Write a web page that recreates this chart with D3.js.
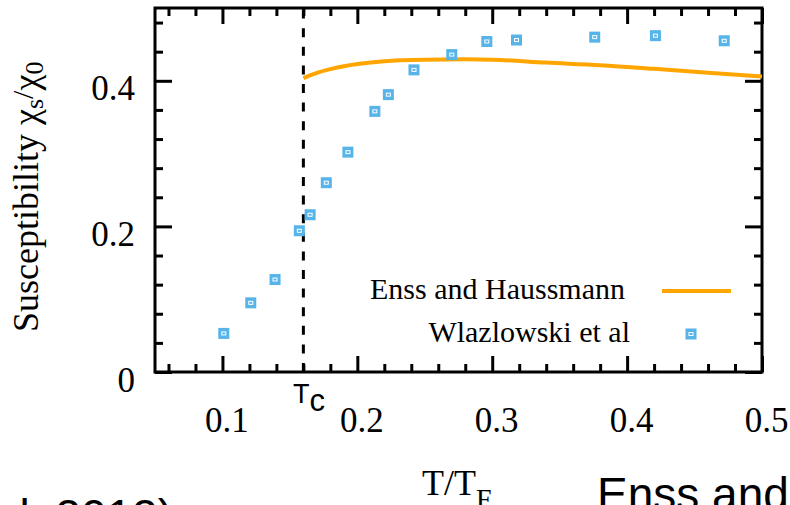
<!DOCTYPE html>
<html><head><meta charset="utf-8">
<script src="https://cdn.jsdelivr.net/npm/d3@7"></script>
<style>html,body{margin:0;padding:0;background:#fff;overflow:hidden}svg{display:block}</style>
</head><body>
<script>
// ---- data ----
const dataT   = [0.101,0.121,0.139,0.157,0.165,0.177,0.193,0.213,0.223,0.242,0.270,0.296,0.318,0.376,0.421,0.472];
const dataChi = [0.053,0.095,0.127,0.194,0.216,0.260,0.302,0.358,0.381,0.415,0.436,0.454,0.456,0.460,0.462,0.455];
const theoryT   = [0.16,0.17,0.18,0.19,0.20,0.22,0.25,0.28,0.30,0.34,0.38,0.42,0.46,0.50];
const theoryChi = [0.4037,0.411,0.416,0.420,0.423,0.427,0.429,0.4295,0.429,0.425,0.4215,0.4165,0.411,0.406];
const Tc = 0.16;
const xTickValues = [0.1,0.2,0.3,0.4,0.5];
const xTickLabels = ["0.1","0.2","0.3","0.4","0.5"];
const xMinorValues = [0.06,0.08,0.12,0.14,0.16,0.18,0.22,0.24,0.26,0.28,0.32,0.34,0.36,0.38,0.42,0.44,0.46,0.48];
const yTickValues = [0,0.2,0.4];
const yTickLabels = ["0","0.2","0.4"];
const yMinorValues = [0.04,0.08,0.12,0.16,0.24,0.28,0.32,0.36,0.44,0.48];
const seriesNames = ["Enss and Haussmann","Wlazlowski et al"];

// ---- drawing ----
const W = 790, H = 505;
const svg = d3.select("body").append("svg").attr("width", W).attr("height", H);
const x = d3.scaleLinear().domain([0.05, 0.5]).range([155, 762]);
const y = d3.scaleLinear().domain([0, 0.5]).range([372, 8]);
const serif = "'Liberation Serif','Times New Roman',serif";
const sans = "'Liberation Sans',Arial,sans-serif";
const orange = "#ffa500", blue = "#56b4e9";

function styleAxis(g){
  g.select(".domain").remove();
  g.selectAll("line").attr("stroke","#000").attr("stroke-width",3);
  g.attr("font-family", serif).attr("font-size", 35);
}
// bottom
svg.append("g").attr("transform",`translate(0,${y(0)})`)
  .call(d3.axisBottom(x).tickValues(xTickValues).tickSize(-16).tickFormat((d,i)=>xTickLabels[i]))
  .call(styleAxis)
  .call(g=>g.selectAll("text").attr("y",60).attr("dy",0).attr("x",4).attr("fill","#000"));
svg.append("g").attr("transform",`translate(0,${y(0)})`)
  .call(d3.axisBottom(x).tickValues(xMinorValues).tickSize(-8).tickFormat(""))
  .call(styleAxis);
// top
svg.append("g").attr("transform",`translate(0,${y(0.5)})`)
  .call(d3.axisTop(x).tickValues(xTickValues).tickSize(-16).tickFormat(""))
  .call(styleAxis);
svg.append("g").attr("transform",`translate(0,${y(0.5)})`)
  .call(d3.axisTop(x).tickValues(xMinorValues).tickSize(-8).tickFormat(""))
  .call(styleAxis);
// left
svg.append("g").attr("transform",`translate(${x(0.05)},0)`)
  .call(d3.axisLeft(y).tickValues(yTickValues).tickSize(-17).tickFormat((d,i)=>yTickLabels[i]))
  .call(styleAxis)
  .call(g=>g.selectAll("text").attr("x",-20).attr("dy",0).attr("y",19).attr("fill","#000"));
svg.append("g").attr("transform",`translate(${x(0.05)},0)`)
  .call(d3.axisLeft(y).tickValues(yMinorValues).tickSize(-8).tickFormat(""))
  .call(styleAxis);
// right
svg.append("g").attr("transform",`translate(${x(0.5)},0)`)
  .call(d3.axisRight(y).tickValues(yTickValues).tickSize(-17).tickFormat(""))
  .call(styleAxis);
svg.append("g").attr("transform",`translate(${x(0.5)},0)`)
  .call(d3.axisRight(y).tickValues(yMinorValues).tickSize(-8).tickFormat(""))
  .call(styleAxis);

// frame
svg.append("rect")
  .attr("x", x(0.05)).attr("y", y(0.5))
  .attr("width", x(0.5)-x(0.05)).attr("height", y(0)-y(0.5))
  .attr("fill","none").attr("stroke","#000").attr("stroke-width",3);

// Tc dashed line
svg.append("line")
  .attr("x1", x(Tc)).attr("x2", x(Tc)).attr("y1", y(0)).attr("y2", y(0.5))
  .attr("stroke","#000").attr("stroke-width",3).attr("stroke-dasharray","9,9.6");

// theory curve
const theory = theoryT.map((t,i)=>({t, v: theoryChi[i]}));
svg.append("path").datum(theory)
  .attr("d", d3.line().x(d=>x(d.t)).y(d=>y(d.v)).curve(d3.curveMonotoneX))
  .attr("fill","none").attr("stroke",orange).attr("stroke-width",4);

// data points
const pts = dataT.map((t,i)=>({t, v: dataChi[i]}));
function marker(sel){
  sel.append("rect").attr("x",-5.5).attr("y",-5.5).attr("width",11).attr("height",11).attr("fill",blue);
  sel.append("rect").attr("x",-2).attr("y",-1.5).attr("width",4).attr("height",3)
     .attr("fill","none").attr("stroke","#fff").attr("stroke-width",1);
}
svg.append("g").selectAll("g").data(pts).join("g")
  .attr("transform", d=>`translate(${x(d.t)},${y(d.v)})`)
  .call(marker);

// legend
const leg = svg.append("g").attr("font-family", serif).attr("font-size", 30).attr("fill","#000");
leg.append("text").attr("x",625).attr("y",299).attr("text-anchor","end").text(seriesNames[0]);
leg.append("line").attr("x1",662).attr("x2",731).attr("y1",291).attr("y2",291)
  .attr("stroke",orange).attr("stroke-width",4);
leg.append("text").attr("x",630).attr("y",342).attr("text-anchor","end").text(seriesNames[1]);
leg.append("g").attr("transform","translate(691,334)").call(marker);

// Tc label
const tcl = svg.append("text").attr("x",293).attr("y",403).attr("font-family",sans).attr("font-size",27).attr("fill","#000");
tcl.append("tspan").text("T");
tcl.append("tspan").attr("font-size",31).attr("dy",8).text("c");

// y label
const yl = svg.append("text").attr("transform","translate(38,332) rotate(-90)")
  .attr("font-family",serif).attr("font-size",36).attr("fill","#000");
yl.append("tspan").text("Susceptibility χ");
yl.append("tspan").attr("font-size",26).attr("dy",5).text("s");
yl.append("tspan").attr("font-size",30).attr("dy",-10).text("/");
yl.append("tspan").attr("dy",5).text("χ");
yl.append("tspan").attr("font-size",26).attr("dy",5).text("0");

// x label
const xl = svg.append("text").attr("x",422).attr("y",495).attr("font-family",serif).attr("font-size",36).attr("fill","#000");
xl.append("tspan").text("T/T");
xl.append("tspan").attr("font-size",28).attr("dy",13).text("F");

// slide text fragments
svg.append("text").attr("x",-6).attr("y",532).attr("font-family",sans).attr("font-size",46).attr("fill","#000").text("al. 2012)");
svg.append("text").attr("x",597).attr("y",510).attr("font-family",sans).attr("font-size",46).attr("fill","#000").text("Enss and");
</script>
</body></html>
